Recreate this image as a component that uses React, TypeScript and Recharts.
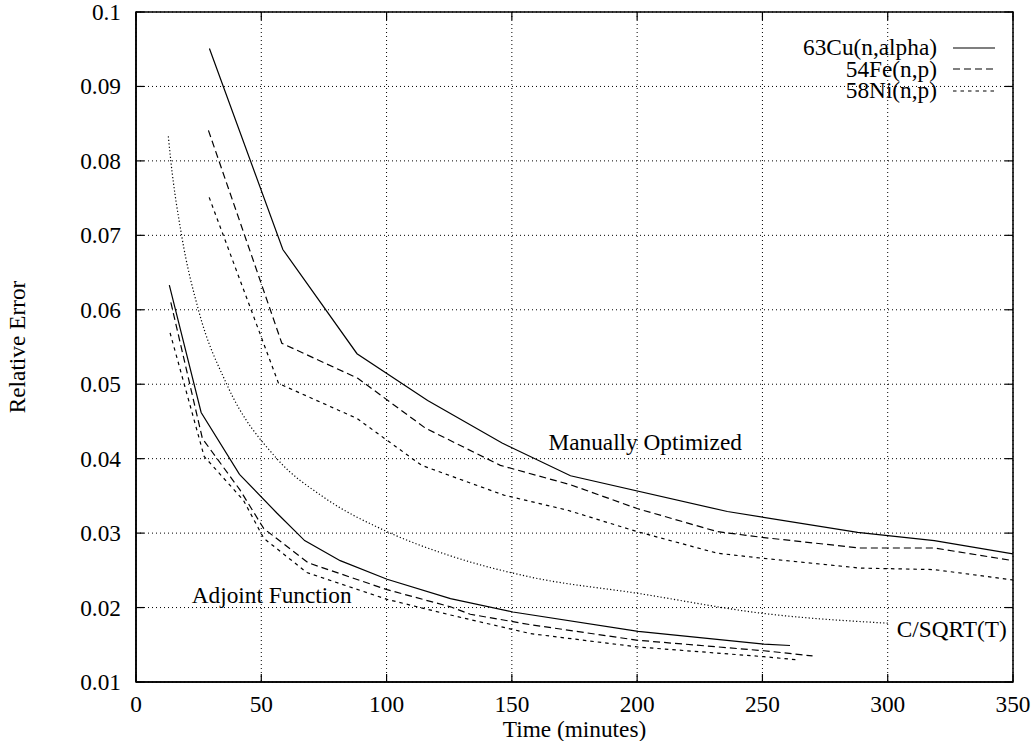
import React from 'react';
import { LineChart, Line, XAxis, YAxis, CartesianGrid, Legend, ReferenceArea, ReferenceDot } from 'recharts';

// ---- data (time in minutes, relative error) ----
const cuManualT = [29.3, 58.6, 88.2, 116.4, 146.1, 173.4, 236, 288, 318.6, 350];
const cuManualV = [0.0951, 0.0681, 0.0541, 0.0478, 0.0421, 0.0377, 0.0329, 0.0301, 0.029, 0.0272];

const feManualT = [28.9, 58.2, 88.5, 115.5, 145.4, 173.4, 200, 232, 250.6, 289, 318.6, 350];
const feManualV = [0.0841, 0.0555, 0.0508, 0.0441, 0.0391, 0.0365, 0.0333, 0.0302, 0.0294, 0.028, 0.028, 0.0263];

const niManualT = [29.2, 56.9, 88.2, 114, 146.8, 172, 200, 232, 250.6, 289, 318.6, 350];
const niManualV = [0.0751, 0.0501, 0.0454, 0.0391, 0.0351, 0.0331, 0.0302, 0.0273, 0.0266, 0.0253, 0.0251, 0.0237];

const cuAdjT = [13.3, 26, 41.3, 56.2, 67.3, 81.5, 100.2, 125.5, 150.4, 200.4, 250.6, 261];
const cuAdjV = [0.0633, 0.0462, 0.0379, 0.0327, 0.029, 0.0263, 0.0238, 0.0212, 0.0194, 0.0168, 0.0151, 0.0149];

const feAdjT = [13.9, 26.5, 41.5, 51, 68.8, 100.2, 125.5, 133.4, 157.4, 200.4, 250.6, 270];
const feAdjV = [0.061, 0.0427, 0.0358, 0.0306, 0.026, 0.0224, 0.0201, 0.0191, 0.0177, 0.0156, 0.0142, 0.0135];

const niAdjT = [13.6, 27.2, 42.9, 51, 68.2, 100.2, 125.5, 157.4, 200.4, 250.6, 263.3];
const niAdjV = [0.0569, 0.0403, 0.0344, 0.0293, 0.0247, 0.0211, 0.019, 0.0165, 0.0147, 0.0134, 0.013];

const sqrtT = [12.9, 13.9, 18.2, 24.9, 36.2, 56.2, 75, 100.2, 125, 157.4, 200.4, 250.6, 300];
const sqrtV = [0.0833, 0.08, 0.07, 0.06, 0.05, 0.04, 0.0348, 0.0302, 0.027, 0.0241, 0.0219, 0.0192, 0.0179];

const xTicks = [0, 50, 100, 150, 200, 250, 300, 350];
const yTicks = [0.01, 0.02, 0.03, 0.04, 0.05, 0.06, 0.07, 0.08, 0.09, 0.1];

const legendNames = ['63Cu(n,alpha)', '54Fe(n,p)', '58Ni(n,p)'];

const annotations = [
  { t: 164.6, v: 0.04228, text: 'Manually Optimized' },
  { t: 22.25, v: 0.02169, text: 'Adjoint Function' },
  { t: 303.6, v: 0.01712, text: 'C/SQRT(T)' },
];

const zip = (ts: number[], vs: number[]) => ts.map((t, i) => ({ t, v: vs[i] }));

// ---- styles ----
const FONT = '"Liberation Serif", "DejaVu Serif", serif';
const FS = 23.3;
const PLOT = { left: 136, right: 1013, top: 12, bottom: 682 };
const DASH = { cu: undefined as string | undefined, fe: '7 4', ni: '3.5 4', sqrt: '1.2 2.2' };

const series = [
  { key: 'cuM', data: zip(cuManualT, cuManualV), dash: DASH.cu, type: 'linear' },
  { key: 'feM', data: zip(feManualT, feManualV), dash: DASH.fe, type: 'linear' },
  { key: 'niM', data: zip(niManualT, niManualV), dash: DASH.ni, type: 'linear' },
  { key: 'cuA', data: zip(cuAdjT, cuAdjV), dash: DASH.cu, type: 'linear' },
  { key: 'feA', data: zip(feAdjT, feAdjV), dash: DASH.fe, type: 'linear' },
  { key: 'niA', data: zip(niAdjT, niAdjV), dash: DASH.ni, type: 'linear' },
  { key: 'sqrt', data: zip(sqrtT, sqrtV), dash: DASH.sqrt, type: 'monotone' },
];

const XTick = (props: any) => {
  const { x, payload } = props;
  return (
    <g>
      <line x1={x} x2={x} y1={PLOT.bottom} y2={PLOT.bottom - 8} stroke="#000" strokeWidth={1.2} />
      <line x1={x} x2={x} y1={PLOT.top} y2={PLOT.top + 8} stroke="#000" strokeWidth={1.2} />
      <text x={x} y={PLOT.bottom + 22} textAnchor="middle" dominantBaseline="central" fontFamily={FONT} fontSize={FS} fill="#000">
        {payload.value}
      </text>
    </g>
  );
};

const YTick = (props: any) => {
  const { y, payload } = props;
  return (
    <g>
      <line x1={PLOT.left} x2={PLOT.left + 8} y1={y} y2={y} stroke="#000" strokeWidth={1.2} />
      <line x1={PLOT.right} x2={PLOT.right - 8} y1={y} y2={y} stroke="#000" strokeWidth={1.2} />
      <text x={121} y={y} textAnchor="end" dominantBaseline="central" fontFamily={FONT} fontSize={FS} fill="#000">
        {String(payload.value)}
      </text>
    </g>
  );
};

const LegendContent = () => {
  const dashes = [DASH.cu, DASH.fe, DASH.ni];
  return (
    <div style={{ fontFamily: FONT, fontSize: FS, color: '#000' }}>
      {legendNames.map((name, i) => (
        <div key={name} style={{ display: 'flex', justifyContent: 'flex-end', alignItems: 'center', height: 21.5 }}>
          <span style={{ lineHeight: '21.5px', whiteSpace: 'nowrap' }}>{name}</span>
          <svg width={42} height={10} style={{ marginLeft: 16 }}>
            <line x1={0} x2={42} y1={5} y2={5} stroke="#000" strokeWidth={1.2} strokeDasharray={dashes[i]} />
          </svg>
        </div>
      ))}
    </div>
  );
};

export default function App() {
  return (
    <div style={{ position: 'absolute', left: 0, top: 0, background: '#fff' }}>
      <LineChart width={1034} height={741} margin={{ top: 12, right: 21, bottom: 0, left: 0 }}>
        <CartesianGrid stroke="#000" strokeDasharray="1 3" strokeWidth={1} />
        <XAxis
          dataKey="t"
          type="number"
          domain={[0, 350]}
          ticks={xTicks}
          interval={0}
          allowDataOverflow
          height={59}
          axisLine={{ stroke: '#000', strokeWidth: 1.5 }}
          tickLine={false}
          tick={<XTick />}
          label={{ value: 'Time (minutes)', position: 'insideBottom', offset: 4, fontFamily: FONT, fontSize: FS, fill: '#000' }}
        />
        <YAxis
          dataKey="v"
          type="number"
          domain={[0.01, 0.1]}
          ticks={yTicks}
          interval={0}
          allowDataOverflow
          width={136}
          axisLine={{ stroke: '#000', strokeWidth: 1.5 }}
          tickLine={false}
          tick={<YTick />}
          label={{ value: 'Relative Error', angle: -90, position: 'insideLeft', offset: 17, fontFamily: FONT, fontSize: FS, fill: '#000', style: { textAnchor: 'middle' } }}
        />
        <ReferenceArea x1={0} x2={350} y1={0.01} y2={0.1} fill="none" stroke="#000" strokeWidth={1.5} ifOverflow="visible" />
        {series.map((s) => (
          <Line
            key={s.key}
            data={s.data}
            dataKey="v"
            type={s.type as any}
            stroke="#000"
            strokeWidth={1.2}
            strokeDasharray={s.dash}
            dot={false}
            activeDot={false}
            isAnimationActive={false}
            legendType="none"
          />
        ))}
        {annotations.map((a) => (
          <ReferenceDot
            key={a.text}
            x={a.t}
            y={a.v}
            r={0}
            fill="none"
            stroke="none"
            label={{ value: a.text, position: 'right', offset: 0, fontFamily: FONT, fontSize: FS, fill: '#000' }}
          />
        ))}
        <Legend
          layout="horizontal"
          verticalAlign="middle"
          align="center"
          content={<LegendContent />}
          wrapperStyle={{ position: 'absolute', top: 37, left: 695, width: 300 }}
        />
      </LineChart>
    </div>
  );
}
